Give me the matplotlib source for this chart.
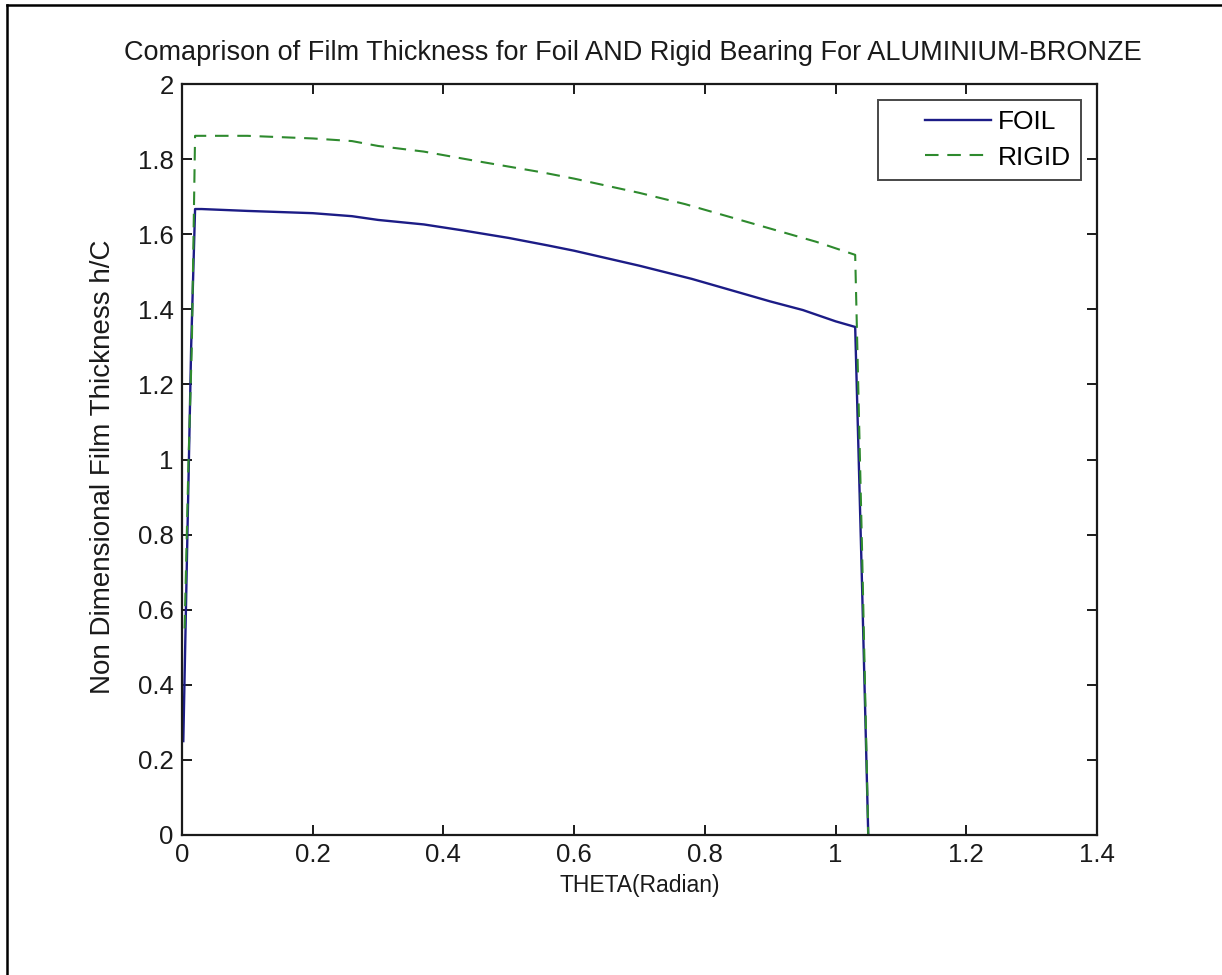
import matplotlib
matplotlib.use("Agg")
import matplotlib.pyplot as plt
from matplotlib.lines import Line2D
from matplotlib.legend_handler import HandlerLine2D

plt.rcParams['font.family'] = ['Liberation Sans', 'DejaVu Sans']

# FOIL bearing film thickness
foil_theta = [0.002, 0.006, 0.010, 0.014, 0.020, 0.030, 0.10, 0.20, 0.26, 0.30, 0.37, 0.43,
              0.50, 0.56, 0.60, 0.70, 0.78, 0.85, 0.90, 0.95, 1.00, 1.03, 1.04, 1.05]
foil_h = [0.25, 0.60, 0.95, 1.30, 1.667, 1.667, 1.662, 1.656, 1.648, 1.638, 1.626, 1.610,
          1.590, 1.570, 1.556, 1.516, 1.481, 1.446, 1.421, 1.398, 1.368, 1.353, 0.70, 0.0]

# RIGID bearing film thickness
rigid_theta = [0.004, 0.010, 0.015, 0.020, 0.10, 0.20, 0.26, 0.30, 0.37, 0.45, 0.50, 0.55,
               0.60, 0.70, 0.77, 0.85, 0.90, 0.97, 1.03, 1.04, 1.05]
rigid_h = [0.55, 1.00, 1.30, 1.862, 1.862, 1.855, 1.848, 1.835, 1.820, 1.795, 1.780, 1.765,
           1.748, 1.710, 1.680, 1.640, 1.615, 1.580, 1.545, 0.80, 0.0]

x_ticks = [0, 0.2, 0.4, 0.6, 0.8, 1.0, 1.2, 1.4]
x_tick_labels = ['0', '0.2', '0.4', '0.6', '0.8', '1', '1.2', '1.4']
y_ticks = [0, 0.2, 0.4, 0.6, 0.8, 1.0, 1.2, 1.4, 1.6, 1.8, 2.0]
y_tick_labels = ['0', '0.2', '0.4', '0.6', '0.8', '1', '1.2', '1.4', '1.6', '1.8', '2']

W, H = 1222, 975
fig = plt.figure(figsize=(W / 100, H / 100), dpi=100)
fig.patch.set_facecolor('white')

left, right, top, bottom = 182, 1097, 84, 835
ax = fig.add_axes([left / W, 1 - bottom / H, (right - left) / W, (bottom - top) / H])

ink = '#1a1a1a'
ax.plot(foil_theta, foil_h, color='#1c1c86', lw=1.7, label='FOIL')
ax.plot(rigid_theta, rigid_h, color='#2e8a2e', lw=1.5, ls=(0, (6.5, 4.2)), label='RIGID')

ax.set_xlim(0, 1.4)
ax.set_ylim(0, 2)
ax.set_xticks(x_ticks)
ax.set_xticklabels(x_tick_labels)
ax.set_yticks(y_ticks)
ax.set_yticklabels(y_tick_labels)
ax.tick_params(direction='in', length=7.5, width=1.4, labelsize=18.5, colors=ink,
               top=True, right=True)
ax.tick_params(axis='x', pad=5.5)
ax.tick_params(axis='y', pad=6)
for s in ax.spines.values():
    s.set_linewidth(1.6)
    s.set_color(ink)

ax.set_title('Comaprison of Film Thickness for Foil AND Rigid Bearing For ALUMINIUM-BRONZE',
             fontsize=19.5, pad=17, color=ink, x=0.493)
ax.set_xlabel('THETA(Radian)', fontsize=16.5, color=ink)
ax.xaxis.set_label_coords(0.5, -0.052)
ax.set_ylabel('Non Dimensional Film Thickness h/C', fontsize=20, color=ink)
ax.yaxis.set_label_coords(-0.072, 0.49)


class PadHandler(HandlerLine2D):
    def create_artists(self, legend, orig_handle, xdescent, ydescent, width, height,
                       fontsize, trans):
        lead = 0.35 * width
        return super().create_artists(legend, orig_handle, xdescent - lead, ydescent,
                                      width - lead, height, fontsize, trans)


leg = ax.legend(loc='upper right', fontsize=19, frameon=True, fancybox=False,
                edgecolor=ink, handlelength=3.9, borderaxespad=0.6,
                handletextpad=0.25, borderpad=0.38, labelspacing=0.45,
                handler_map={Line2D: PadHandler()})
leg.get_frame().set_linewidth(1.4)

# outer frame lines (top and left edges of the picture)
fig.add_artist(Line2D([7 / W, 7 / W], [0, 1 - 5 / H], transform=fig.transFigure, color='black', lw=1.8))
fig.add_artist(Line2D([7 / W, 1], [1 - 5 / H, 1 - 5 / H], transform=fig.transFigure, color='black', lw=1.8))

fig.savefig('out.png', dpi=100, facecolor='white')
